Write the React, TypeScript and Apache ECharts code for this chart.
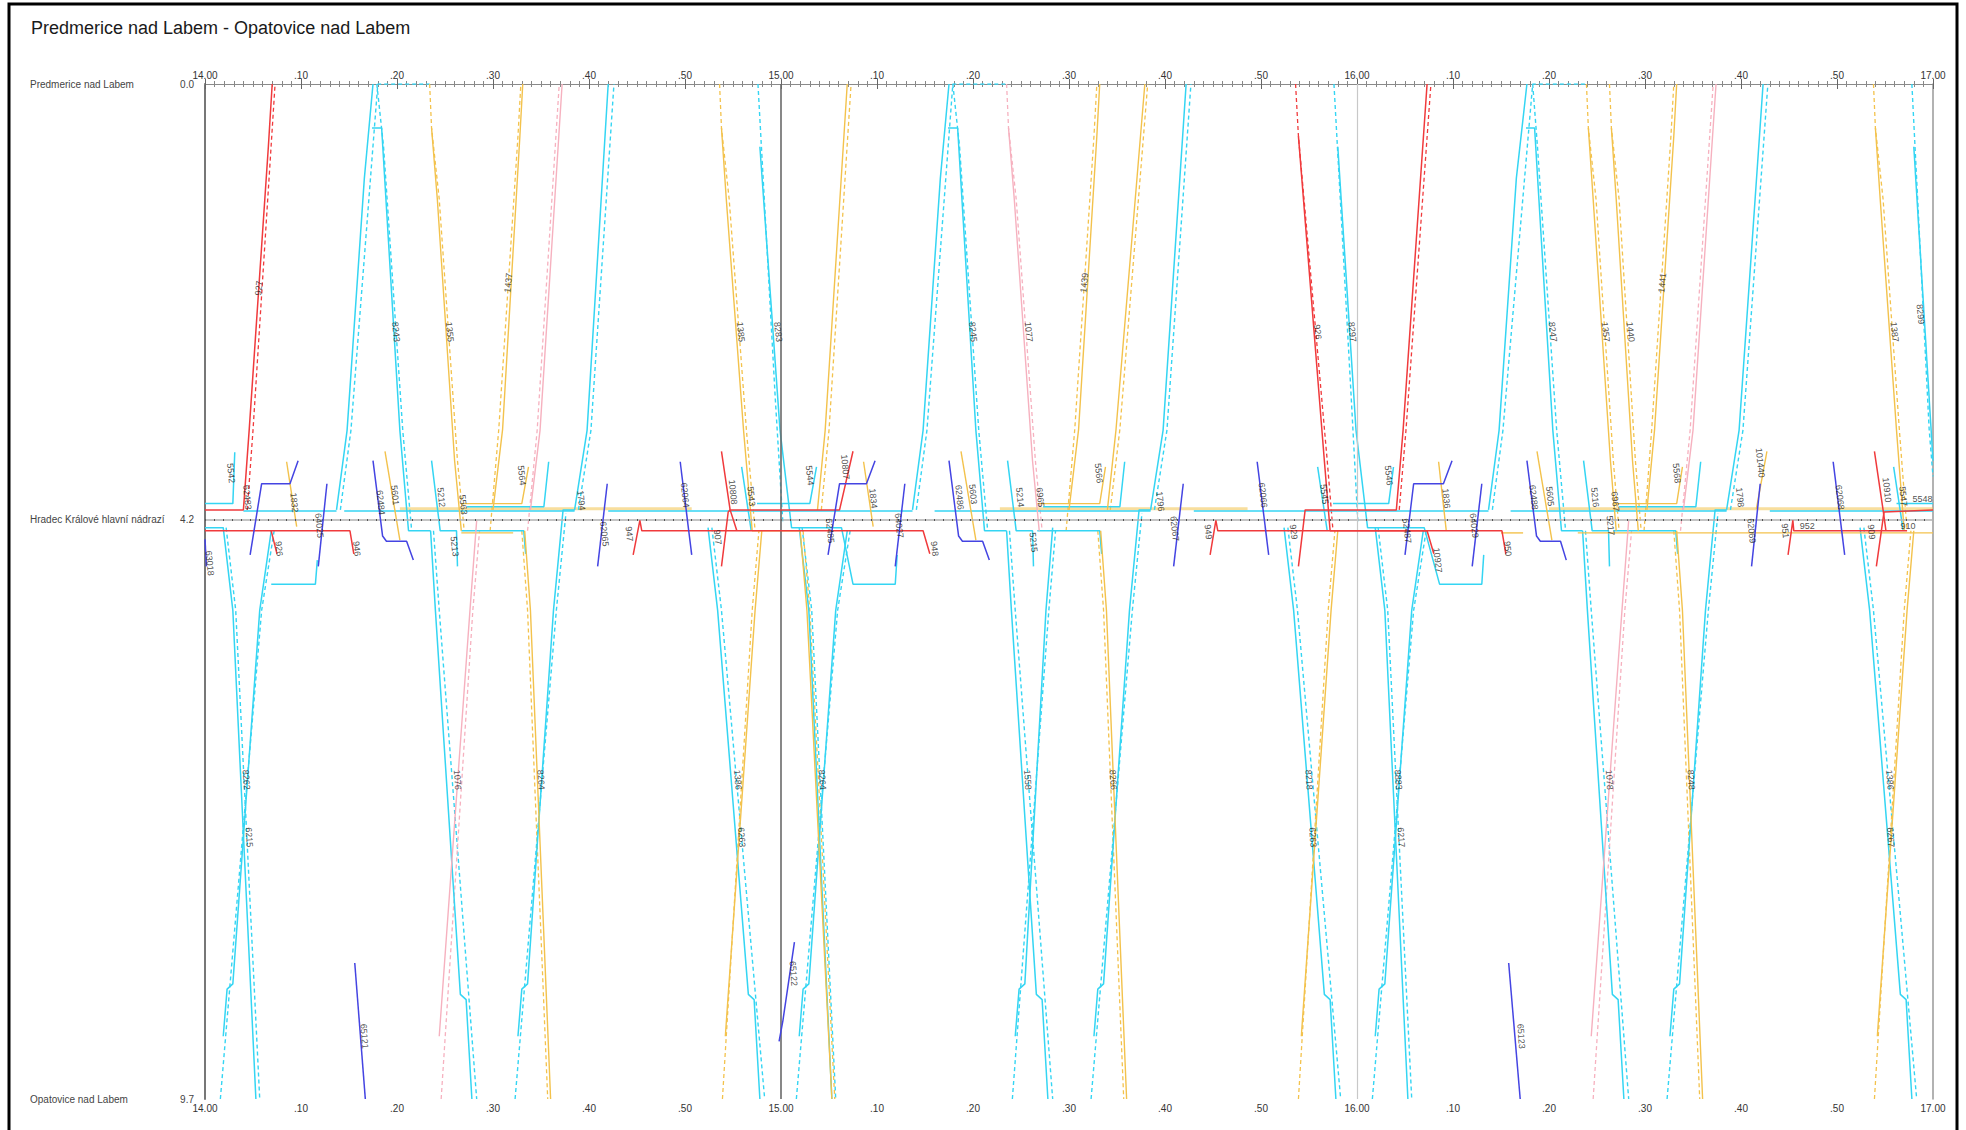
import React, { useEffect, useRef } from "react";
import * as echarts from "echarts";

type Pt = [number, number];
type Path = Pt[];
type Lab = [number, number, string, number];

const chartTitle = "Predmerice nad Labem - Opatovice nad Labem";
const stationNames = ["Predmerice nad Labem", "Hradec Králové hlavní nádrazí", "Opatovice nad Labem"];
const stationKm = [0, 4.16, 9.7];
const stationKmText = ["0.0", "4.2", "9.7"];
const hourLabels = ["14.00", "15.00", "16.00", "17.00"];
const timeMin = 0;
const timeMax = 180;

// minutes after 14.00, km
const cyanSolid: Path[] = [
  [[13.7, 4.07], [14.8, 3.31], [16.6, 0.9], [17.5, 0]],
  [[17.4, 0.42], [18.4, 0.42], [20.3, 3.31], [21.2, 4.27], [23.5, 4.27]],
  [[38.5, 4.07], [39.8, 3.31], [42.0, 0]],
  [[57.8, 0.6], [59.9, 3.31], [61.1, 4.24], [66.3, 4.24], [67.5, 4.78], [71.9, 4.78], [72.1, 4.5]],
  [[73.7, 4.07], [74.8, 3.31], [76.6, 0.9], [77.5, 0]],
  [[77.4, 0.42], [78.4, 0.42], [80.3, 3.31], [81.2, 4.27], [83.5, 4.27]],
  [[98.5, 4.07], [99.8, 3.31], [102.2, 0]],
  [[118.0, 0.6], [119.9, 3.31], [121.1, 4.24], [127.0, 4.24], [128.6, 4.78], [133.0, 4.78], [133.2, 4.5]],
  [[133.7, 4.07], [134.8, 3.31], [136.6, 0.9], [137.7, 0]],
  [[137.6, 0.42], [138.5, 0.42], [140.4, 3.31], [141.3, 4.27], [143.5, 4.27]],
  [[158.5, 4.07], [159.8, 3.31], [162.3, 0]],
  [[178.0, 0.6], [180, 3.6]],
  [[6.9, 4.78], [11.5, 4.78], [11.7, 4.55]],
  [[0, 4.01], [2.9, 4.01], [3.1, 3.52]],
  [[23.6, 3.6], [24.5, 4.27], [26.2, 4.27], [26.3, 4.61]],
  [[27.3, 4.04], [35.3, 4.04], [35.8, 3.61]],
  [[26.7, 4.27], [33.2, 4.27], [33.4, 4.49]],
  [[55.9, 3.66], [56.9, 4.27]],
  [[57.5, 4.01], [63.0, 4.01], [63.7, 3.66]],
  [[83.6, 3.6], [84.5, 4.27], [86.2, 4.27], [86.3, 4.61]],
  [[87.3, 4.04], [95.3, 4.04], [95.8, 3.61]],
  [[86.7, 4.27], [93.2, 4.27], [93.4, 4.49]],
  [[115.9, 3.66], [116.9, 4.27]],
  [[117.5, 4.01], [123.3, 4.01], [123.8, 3.66]],
  [[143.6, 3.6], [144.5, 4.27], [146.2, 4.27], [146.3, 4.61]],
  [[147.3, 4.04], [155.3, 4.04], [155.8, 3.61]],
  [[146.7, 4.27], [153.2, 4.27], [153.4, 4.49]],
  [[175.9, 3.66], [176.9, 4.27]],
  [[176.2, 4.01], [180, 4.01]],
  [[4.0, 4.08], [13.7, 4.08]],
  [[14.5, 4.08], [38.5, 4.08]],
  [[42.0, 4.08], [73.7, 4.08]],
  [[76.0, 4.08], [98.5, 4.08]],
  [[103.0, 4.08], [133.7, 4.08]],
  [[136.0, 4.08], [158.5, 4.08]],
  [[163.0, 4.08], [180, 4.08]],
  [[1.9, 9.1], [2.3, 8.65], [2.9, 8.6], [5.7, 5.03], [6.9, 4.27]],
  [[0, 4.24], [1.9, 4.24], [2.9, 5.03], [5.3, 9.7]],
  [[23.5, 4.27], [24.0, 5.03], [26.6, 8.7], [27.2, 8.75], [27.8, 9.7]],
  [[32.6, 9.1], [33.0, 8.65], [33.6, 8.6], [36.3, 5.03], [37.3, 4.07], [38.5, 4.07]],
  [[52.4, 4.24], [53.4, 5.03], [56.6, 8.7], [57.2, 8.75], [57.8, 9.7]],
  [[61.9, 9.1], [62.3, 8.65], [62.9, 8.6], [65.7, 5.03], [66.9, 4.27]],
  [[61.9, 4.24], [62.9, 5.03], [65.3, 9.7]],
  [[83.5, 4.27], [84.0, 5.03], [86.6, 8.7], [87.2, 8.75], [87.8, 9.7]],
  [[84.4, 9.1], [84.8, 8.65], [85.4, 8.6], [87.6, 5.03], [88.3, 4.24]],
  [[92.6, 9.1], [93.0, 8.65], [93.6, 8.6], [96.3, 5.03], [97.3, 4.07], [98.5, 4.07]],
  [[112.4, 4.24], [113.4, 5.03], [116.6, 8.7], [117.2, 8.75], [117.8, 9.7]],
  [[121.9, 9.1], [122.3, 8.65], [122.9, 8.6], [125.7, 5.03], [126.9, 4.27]],
  [[121.9, 4.24], [122.9, 5.03], [125.3, 9.7]],
  [[143.5, 4.27], [144.0, 5.03], [146.6, 8.7], [147.2, 8.75], [147.8, 9.7]],
  [[152.6, 9.1], [153.0, 8.65], [153.6, 8.6], [156.3, 5.03], [157.3, 4.07], [158.5, 4.07]],
  [[172.4, 4.24], [173.4, 5.03], [176.6, 8.7], [177.2, 8.75], [177.8, 9.7]],
];

const cyanDashed: Path[] = [
  [[14.1, 4.07], [15.2, 3.31], [18.0, 0], [23.4, 0]],
  [[17.9, 0], [18.6, 0.6], [20.6, 3.31], [21.5, 4.24]],
  [[38.9, 4.07], [40.2, 3.31], [42.6, 0]],
  [[57.6, 0], [59.4, 3.0], [60.2, 4.2]],
  [[74.1, 4.07], [75.2, 3.31], [77.9, 0], [83.4, 0]],
  [[77.9, 0], [78.6, 0.6], [80.6, 3.31], [81.5, 4.24]],
  [[98.9, 4.07], [100.2, 3.31], [102.7, 0]],
  [[117.6, 0], [119.4, 3.0], [120.1, 4.2]],
  [[134.1, 4.07], [135.2, 3.31], [138.3, 0], [143.8, 0]],
  [[138.3, 0], [138.8, 0.6], [140.8, 3.31], [141.7, 4.24]],
  [[158.9, 4.07], [160.2, 3.31], [162.8, 0]],
  [[177.8, 0], [179.6, 3.3], [180, 3.75]],
  [[1.6, 9.7], [5.9, 5.03], [7.2, 4.27]],
  [[2.2, 4.24], [3.2, 5.03], [5.7, 9.7]],
  [[23.8, 4.27], [24.4, 5.03], [28.3, 9.7]],
  [[32.3, 9.7], [36.6, 5.03], [37.6, 4.1]],
  [[52.8, 4.24], [53.8, 5.03], [58.3, 9.7]],
  [[61.6, 9.7], [65.9, 5.03], [67.2, 4.27]],
  [[62.2, 4.24], [63.2, 5.03], [65.7, 9.7]],
  [[83.8, 4.27], [84.4, 5.03], [88.3, 9.7]],
  [[84.1, 9.7], [87.9, 5.03], [88.6, 4.27]],
  [[92.3, 9.7], [96.6, 5.03], [97.6, 4.1]],
  [[112.8, 4.24], [113.8, 5.03], [118.3, 9.7]],
  [[121.6, 9.7], [125.9, 5.03], [127.2, 4.27]],
  [[122.2, 4.24], [123.2, 5.03], [125.7, 9.7]],
  [[143.8, 4.27], [144.4, 5.03], [148.3, 9.7]],
  [[152.3, 9.7], [156.6, 5.03], [157.6, 4.1]],
  [[172.8, 4.24], [173.8, 5.03], [178.3, 9.7]],
];

const yellowSolid: Path[] = [
  [[23.6, 0.42], [24.2, 1.1], [26.0, 3.6], [26.7, 4.27]],
  [[30.0, 4.07], [31.0, 3.3], [32.8, 0.5], [33.1, 0]],
  [[53.8, 0.42], [54.3, 1.1], [56.1, 3.31], [57.0, 4.27], [62.0, 4.27], [62.7, 5.03], [65.3, 9.7]],
  [[63.8, 4.07], [64.6, 3.31], [66.9, 0]],
  [[90.0, 4.07], [91.0, 3.3], [92.9, 0.5], [93.2, 0]],
  [[94.0, 4.07], [94.9, 3.3], [97.9, 0]],
  [[144.1, 0.42], [144.6, 1.1], [146.4, 3.6], [147.0, 4.27]],
  [[146.5, 0.42], [147.0, 1.1], [148.7, 3.6], [149.3, 4.27]],
  [[150.2, 4.07], [151.0, 3.3], [153.0, 0.5], [153.3, 0]],
  [[174.0, 0.42], [174.5, 1.1], [176.2, 3.31], [177.0, 4.27]],
  [[33.3, 4.27], [33.9, 5.03], [36.0, 9.7]],
  [[54.2, 9.1], [57.3, 5.03], [58.0, 4.27]],
  [[93.3, 4.27], [93.9, 5.03], [96.0, 9.7]],
  [[114.2, 9.1], [117.3, 5.03], [118.0, 4.27]],
  [[153.3, 4.27], [153.9, 5.03], [156.0, 9.7]],
  [[174.2, 9.1], [177.3, 5.03], [178.0, 4.27]],
  [[8.5, 3.61], [9.55, 4.23]],
  [[18.75, 3.51], [20.3, 4.36]],
  [[26.7, 4.01], [33.0, 4.01], [33.7, 3.66]],
  [[68.6, 3.61], [69.6, 4.23]],
  [[78.75, 3.51], [80.3, 4.36]],
  [[86.7, 4.01], [93.2, 4.01], [93.8, 3.66]],
  [[128.5, 3.61], [129.3, 4.27]],
  [[138.75, 3.51], [140.3, 4.36]],
  [[146.7, 4.01], [153.3, 4.01], [153.9, 3.66]],
  [[161.6, 4.06], [162.7, 3.51]],
  [[26.7, 4.29], [32.1, 4.29]],
  [[135.0, 4.29], [137.3, 4.29]],
  [[143.0, 4.29], [180, 4.29]],
];

const yellowBand: Path[] = [
  [[20.3, 4.06], [50.7, 4.06]],
  [[82.8, 4.06], [108.6, 4.06]],
  [[140.0, 4.06], [180, 4.06]],
];

const yellowDashed: Path[] = [
  [[23.4, 0], [23.6, 0.42], [24.4, 1.1], [26.3, 3.6], [27.0, 4.27]],
  [[29.7, 4.27], [30.6, 3.3], [32.6, 0.5], [32.9, 0]],
  [[53.6, 0], [53.8, 0.42], [54.6, 1.1], [56.4, 3.31], [57.3, 4.27]],
  [[64.2, 4.07], [65.0, 3.31], [67.3, 0]],
  [[89.7, 4.27], [90.6, 3.3], [92.6, 0.5], [92.9, 0]],
  [[94.3, 4.07], [95.3, 3.3], [98.2, 0]],
  [[143.9, 0], [144.1, 0.42], [144.9, 1.1], [146.7, 3.6], [147.3, 4.27]],
  [[146.3, 0], [146.5, 0.42], [147.3, 1.1], [149.0, 3.6], [149.6, 4.27]],
  [[149.9, 4.27], [150.7, 3.3], [152.7, 0.5], [153.0, 0]],
  [[173.8, 0], [174.0, 0.42], [174.8, 1.1], [176.5, 3.31], [177.3, 4.27]],
  [[33.0, 4.27], [33.6, 5.03], [35.7, 9.7]],
  [[53.9, 9.7], [57.0, 5.03], [57.7, 4.27]],
  [[62.3, 4.27], [63.0, 5.03], [65.6, 9.7]],
  [[93.0, 4.27], [93.6, 5.03], [95.7, 9.7]],
  [[113.9, 9.7], [117.0, 5.03], [117.7, 4.27]],
  [[153.0, 4.27], [153.6, 5.03], [155.7, 9.7]],
  [[173.9, 9.7], [177.0, 5.03], [177.7, 4.27]],
];

const pinkSolid: Path[] = [
  [[33.9, 4.07], [34.9, 3.31], [37.2, 0]],
  [[83.7, 0.42], [84.3, 1.1], [86.2, 3.6], [86.9, 4.27]],
  [[154.0, 4.07], [155.0, 3.31], [157.4, 0]],
  [[24.4, 9.1], [27.6, 5.03], [28.3, 4.17]],
  [[144.4, 9.1], [147.6, 5.03], [148.3, 4.17]],
];

const pinkDashed: Path[] = [
  [[33.6, 4.27], [34.6, 3.31], [36.9, 0]],
  [[83.5, 0], [83.7, 0.42], [84.5, 1.1], [86.5, 3.6], [87.2, 4.27]],
  [[153.7, 4.27], [154.7, 3.31], [157.1, 0]],
  [[24.6, 9.7], [27.9, 5.03], [28.6, 4.27]],
  [[144.6, 9.7], [147.9, 5.03], [148.6, 4.27]],
];

const redSolid: Path[] = [
  [[0, 4.07], [4.0, 4.07], [4.6, 3.31], [6.6, 0.6], [7.0, 0]],
  [[0, 4.27], [15.1, 4.27], [15.5, 4.49]],
  [[6.9, 4.27], [7.5, 4.49]],
  [[44.6, 4.5], [45.3, 4.17], [45.5, 4.27], [74.8, 4.27], [75.5, 4.49]],
  [[53.8, 3.51], [54.7, 4.07], [55.4, 4.27]],
  [[53.8, 4.61], [54.5, 4.09], [54.7, 4.07], [66.1, 4.07], [67.5, 3.51]],
  [[104.7, 4.5], [105.3, 4.17], [105.5, 4.27], [135.1, 4.27], [135.5, 4.49]],
  [[113.9, 0.5], [116.6, 3.6], [117.2, 4.27], [127.3, 4.27], [128.0, 4.49]],
  [[113.9, 4.61], [114.6, 4.07], [124.1, 4.07], [124.8, 3.31], [127.3, 0]],
  [[164.9, 4.5], [165.4, 4.17], [165.5, 4.27], [177.3, 4.27]],
  [[173.9, 3.51], [174.8, 4.07], [175.1, 4.27]],
  [[174.1, 4.61], [174.9, 4.09], [180, 4.07]],
];

const redDashed: Path[] = [
  [[4.4, 4.07], [5.0, 3.31], [7.3, 0]],
  [[113.6, 0], [113.9, 0.5], [116.9, 3.6], [117.5, 4.27]],
  [[124.4, 4.07], [125.1, 3.31], [127.7, 0]],
];

const blueSolid: Path[] = [
  [[0, 4.35], [0.15, 4.61]],
  [[4.7, 4.5], [5.9, 3.82], [8.85, 3.82], [9.7, 3.6]],
  [[11.8, 4.61], [12.7, 3.82]],
  [[17.5, 3.6], [18.5, 4.32], [18.9, 4.37], [21.0, 4.37], [21.7, 4.55]],
  [[40.9, 4.61], [41.9, 3.82]],
  [[49.5, 3.61], [50.7, 4.5]],
  [[64.9, 4.5], [66.1, 3.82], [68.9, 3.82], [69.8, 3.6]],
  [[71.9, 4.61], [72.9, 3.82]],
  [[77.5, 3.6], [78.5, 4.32], [78.9, 4.37], [81.0, 4.37], [81.7, 4.55]],
  [[100.9, 4.61], [101.9, 3.82]],
  [[109.6, 3.61], [110.8, 4.5]],
  [[125.0, 4.5], [125.9, 3.82], [129.0, 3.82], [129.9, 3.6]],
  [[132.0, 4.61], [133.0, 3.82]],
  [[137.7, 3.6], [138.7, 4.32], [139.1, 4.37], [141.2, 4.37], [141.8, 4.55]],
  [[161.1, 4.61], [162.0, 3.82]],
  [[169.6, 3.61], [170.8, 4.5]],
  [[15.6, 8.4], [16.7, 9.7]],
  [[59.8, 9.15], [60.2, 8.95], [61.4, 8.2]],
  [[135.8, 8.4], [137.0, 9.7]],
];

const trainLabels: Lab[] = [
  [5.6, 1.95, "927", 84], [19.9, 2.37, "8243", -84], [25.5, 2.37, "1355", -84], [31.6, 1.9, "1437", 84],
  [55.8, 2.37, "1385", -84], [59.7, 2.37, "8283", -84], [80.0, 2.37, "8245", -84], [85.8, 2.37, "1077", -84],
  [91.6, 1.9, "1439", 84], [115.9, 2.37, "926", -84], [119.5, 2.37, "8297", -84], [140.4, 2.37, "8247", -84],
  [145.9, 2.37, "1357", -84], [148.5, 2.37, "1440", -84], [151.8, 1.9, "1441", 84], [176.0, 2.37, "1387", -84],
  [178.7, 2.2, "8299", -84],
  [2.7, 3.72, "5542", -84], [4.4, 3.95, "62483", -84], [9.3, 4.0, "1832", -84], [7.7, 4.44, "926", -84],
  [11.9, 4.22, "64025", -84], [15.8, 4.44, "946", -84], [18.3, 4.0, "62484", -84], [19.8, 3.93, "5601", -84],
  [24.6, 3.95, "5212", -84], [26.0, 4.42, "5213", -84], [26.9, 4.02, "5563", -84], [33.0, 3.74, "5564", -84],
  [39.2, 3.98, "1794", -84], [41.6, 4.3, "62065", -84], [0.5, 4.58, "63018", -84],
  [44.2, 4.3, "947", -84], [50.0, 3.93, "62064", -84], [53.4, 4.33, "907", -84], [55.0, 3.9, "10808", -84],
  [56.9, 3.94, "5543", -84], [63.0, 3.74, "5544", -84], [66.7, 3.66, "10807", -84], [65.1, 4.27, "62485", -84],
  [69.6, 3.96, "1834", -84], [72.3, 4.22, "64027", -84], [76.0, 4.44, "948", -84], [78.6, 3.95, "62486", -84],
  [80.0, 3.92, "5603", -84], [84.9, 3.95, "5214", -84], [86.3, 4.38, "5215", -84], [87.0, 3.95, "6965", -84],
  [93.1, 3.72, "5566", -84], [99.5, 3.99, "1796", -84], [101.0, 4.25, "62067", -84], [104.5, 4.28, "949", -84],
  [110.2, 3.93, "62066", -84], [113.4, 4.28, "929", -84], [116.6, 3.92, "5545", -84], [123.3, 3.74, "5546", -84],
  [128.4, 4.55, "10927", -84], [125.2, 4.27, "62487", -84], [129.3, 3.96, "1836", -84], [132.2, 4.22, "64029", -84],
  [135.7, 4.44, "950", -84], [138.4, 3.95, "62488", -84], [140.1, 3.94, "5605", -84], [144.8, 3.95, "5216", -84],
  [146.4, 4.22, "5217", -84], [146.9, 3.99, "6967", -84], [153.3, 3.72, "5568", -84], [159.9, 3.95, "1798", -84],
  [162.0, 3.62, "101440", -84], [161.1, 4.27, "62069", -84], [164.6, 4.27, "951", -84], [166.9, 4.22, "952", 0],
  [170.3, 3.95, "62068", -84], [173.6, 4.28, "909", -84], [175.2, 3.88, "10910", -84], [177.4, 4.22, "910", 0],
  [176.9, 3.94, "5547", -84], [178.9, 3.97, "5548", 0],
  [4.3, 6.65, "8262", -86], [4.6, 7.2, "6215", -86], [26.3, 6.65, "1076", -86], [35.0, 6.65, "8264", -86],
  [55.5, 6.65, "1386", -86], [55.9, 7.2, "6263", -86], [16.6, 9.1, "65121", -86],
  [64.3, 6.65, "8264", -86], [61.3, 8.5, "65122", -86], [85.7, 6.65, "1558", -86], [94.6, 6.65, "8266", -86],
  [115.0, 6.65, "8218", -86], [115.4, 7.2, "6263", -86], [124.3, 6.65, "8883", -86], [124.6, 7.2, "6217", -86],
  [146.3, 6.65, "1078", -86], [154.8, 6.65, "8248", -86], [175.5, 6.65, "1386", -86], [175.6, 7.2, "6267", -86],
  [137.1, 9.1, "65123", -86],
];

const COL = {
  cyan: "#34d5f3",
  yellow: "#f3c24c",
  pink: "#f6b1bf",
  red: "#f03a3c",
  blue: "#4444e2",
};

function timeLabel(v: number): string {
  const r = Math.round(v);
  if (r % 60 === 0) return hourLabels[r / 60] ?? "";
  return "." + (r % 60);
}

function kmIndex(v: number): number {
  let best = 0;
  stationKm.forEach((k, i) => {
    if (Math.abs(k - v) < Math.abs(stationKm[best] - v)) best = i;
  });
  return best;
}

function mk(paths: Path[], color: string, dashed: boolean, width = 1.4, opacity = 1, z = 3) {
  return paths.map((p) => ({
    type: "line",
    data: p,
    symbol: "none",
    silent: true,
    z,
    lineStyle: { color, width, type: dashed ? [4, 3] : "solid", opacity },
    animation: false,
  }));
}

export default function App() {
  const ref = useRef<HTMLDivElement>(null);
  useEffect(() => {
    if (!ref.current) return;
    const chart = echarts.init(ref.current, undefined, { renderer: "svg" });
    const xBase = (position: "top" | "bottom") => ({
      type: "value",
      position,
      min: timeMin,
      max: timeMax,
      interval: 10,
      axisLine: { show: true, lineStyle: { color: "#8a8a8a", width: 1.2 } },
      axisTick: { show: true, inside: true, length: 5, lineStyle: { color: "#666" } },
      minorTick: { show: true, splitNumber: 10, length: 3, lineStyle: { color: "#888" } },
      splitLine: { show: false },
      axisLabel: { formatter: timeLabel, fontSize: 10, color: "#333", margin: 4, showMinLabel: true, showMaxLabel: true },
    });
    const option: any = {
      animation: false,
      backgroundColor: "#ffffff",
      textStyle: { fontFamily: "Liberation Sans, Arial, sans-serif" },
      title: {
        text: chartTitle,
        left: 26,
        top: 14,
        textStyle: { fontSize: 18, fontWeight: "normal", color: "#1a1a1a", fontFamily: "Liberation Sans, Arial, sans-serif" },
      },
      grid: { left: 205, right: 33, top: 84, bottom: 31, containLabel: false },
      xAxis: [xBase("bottom"), xBase("top")],
      yAxis: [
        {
          type: "value", min: 0, max: 9.7, inverse: true, position: "left",
          axisLine: { show: true, lineStyle: { color: "#777", width: 2 } },
          axisTick: { show: false }, splitLine: { show: false },
          axisLabel: { customValues: stationKm, formatter: (v: number) => stationKmText[kmIndex(v)], fontSize: 10, color: "#444", margin: 11 },
        },
        {
          type: "value", min: 0, max: 9.7, inverse: true, position: "left",
          axisLine: { show: false }, axisTick: { show: false }, splitLine: { show: false },
          axisLabel: { customValues: stationKm, formatter: (v: number) => stationNames[kmIndex(v)], align: "left", margin: 175, fontSize: 10, color: "#444" },
        },
        {
          type: "value", min: 0, max: 9.7, inverse: true, position: "right",
          axisLine: { show: true, lineStyle: { color: "#999", width: 1.5 } },
          axisTick: { show: false }, axisLabel: { show: false }, splitLine: { show: false },
        },
      ],
      graphic: [
        { type: "rect", shape: { x: 9, y: 4, width: 1948, height: 1140 }, style: { fill: "none", stroke: "#000", lineWidth: 3 }, silent: true },
      ],
      series: [
        {
          type: "line", data: [[0, 0]], symbol: "none", lineStyle: { opacity: 0 }, silent: true, z: 1,
          markLine: {
            silent: true, symbol: "none", label: { show: false }, animation: false,
            data: [
              { yAxis: stationKm[1], lineStyle: { color: "#b0b0b0", width: 1.6, type: "solid" } },
              { yAxis: stationKm[1], lineStyle: { color: "#555", width: 2, type: [1, 8] } },
              { xAxis: 60, lineStyle: { color: "#6a6a6a", width: 1.6, type: "solid" } },
              { xAxis: 120, lineStyle: { color: "#c8c8c8", width: 1.2, type: "solid" } },
            ],
          },
        },
        ...mk(yellowBand, COL.yellow, false, 3, 0.55, 2),
        ...mk(cyanDashed, COL.cyan, true, 1.4, 1, 3),
        ...mk(yellowDashed, COL.yellow, true, 1.3, 1, 3),
        ...mk(pinkDashed, COL.pink, true, 1.3, 1, 3),
        ...mk(redDashed, COL.red, true, 1.3, 1, 3),
        ...mk(cyanSolid, COL.cyan, false, 1.5, 1, 4),
        ...mk(yellowSolid, COL.yellow, false, 1.4, 1, 4),
        ...mk(pinkSolid, COL.pink, false, 1.4, 1, 4),
        ...mk(redSolid, COL.red, false, 1.5, 1, 5),
        ...mk(blueSolid, COL.blue, false, 1.5, 1, 5),
        {
          type: "scatter", symbolSize: 0, silent: true, z: 10,
          data: trainLabels.map(([m, k, t, r]) => ({ value: [m, k], label: { show: true, formatter: t, rotate: r } })),
          label: { show: true, position: "inside", fontSize: 9, color: "#222" },
        },
      ],
    };
    chart.setOption(option);
    return () => chart.dispose();
  }, []);
  return <div ref={ref} style={{ position: "fixed", left: 0, top: 0, width: 1966, height: 1130 }} />;
}
